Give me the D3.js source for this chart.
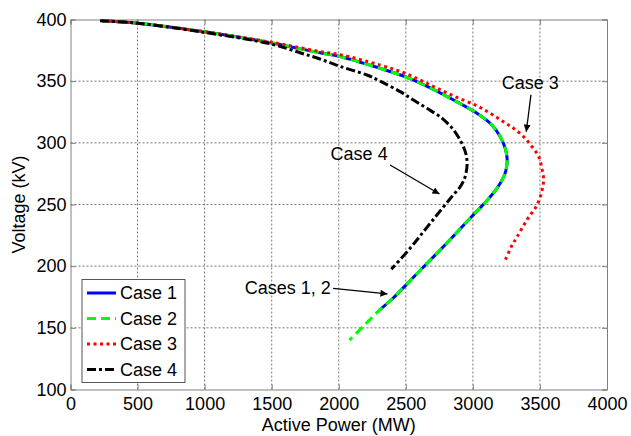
<!DOCTYPE html>
<html>
<head>
<meta charset="utf-8">
<script src="https://cdn.jsdelivr.net/npm/d3@7"></script>
<style>
body { margin: 0; background: #fff; }
text { font-family: Arial, "Liberation Sans", sans-serif; fill: #000; }
</style>
</head>
<body>
<div id="chart"></div>
<script>
// values: [active power MW, voltage kV]
var case1 = [[235,399],[500,397],[1000,390],[1500,381],[1860,373],[2010,370],[2309,360.4],[2495,353.6],[2682,344.5],[2856,334.7],[3030,324],[3142,314.5],[3204,305],[3244,294.5],[3256,286],[3247,278],[3230,272.5],[3179,263],[3109,253.6],[3042,246],[2967,237.4],[2856,224.5],[2706,207.5],[2557,191],[2408,174.4],[2303,164.4]];
var case2 = [[235,399],[500,397],[1000,390],[1500,381],[1860,373],[2010,370],[2309,360.4],[2495,353.6],[2682,344.5],[2856,334.7],[3030,324],[3142,314.5],[3204,305],[3244,294.5],[3256,286],[3247,278],[3230,272.5],[3179,263],[3109,253.6],[3042,246],[2967,237.4],[2856,224.5],[2706,207.5],[2557,191],[2408,174.4],[2303,164.4],[2190,152],[2080,140]];
var case3 = [[235,399],[500,397],[1000,390],[1500,381.5],[1860,374],[2010,371.5],[2309,363],[2495,356.4],[2682,347],[2856,338],[3030,330],[3129,324],[3228,317],[3303,311.8],[3378,305],[3440,297],[3490,289],[3515,279],[3527,270],[3517,262],[3480,250],[3403,237.4],[3328,223.5],[3290,216.5],[3238,204]];
var case4 = [[220,399],[500,397],[1000,389.5],[1500,380],[1712,373],[1860,368],[2010,362],[2210,355],[2309,350],[2458,341.5],[2557,334.7],[2657,328],[2769,320],[2856,310.4],[2918,299.6],[2948,291],[2957,283],[2948,275],[2930,269],[2900,263.5],[2860,258.5],[2818,253],[2732,241.5],[2632,228],[2532,214.5],[2392,197.5]];

var seriesNames = ["Case 1", "Case 2", "Case 3", "Case 4"];
var xTicks = [0, 500, 1000, 1500, 2000, 2500, 3000, 3500, 4000];
var yTicks = [100, 150, 200, 250, 300, 350, 400];

var series = [
    {name: seriesNames[0], data: case1, color: "#0000ff", dash: null},
    {name: seriesNames[1], data: case2, color: "#00ff00", dash: "9,5"},
    {name: seriesNames[2], data: case3, color: "#ff0000", dash: "3,3.5"},
    {name: seriesNames[3], data: case4, color: "#000000", dash: "9,3,3,3"}
];

var svgW = 631, svgH = 436;
var x = d3.scaleLinear().domain([0, 4000]).range([70.5, 607]);
var y = d3.scaleLinear().domain([100, 400]).range([389.5, 19.5]);

var svg = d3.select("#chart").append("svg")
    .attr("width", svgW)
    .attr("height", svgH);

var defs = svg.append("defs");
defs.append("marker")
    .attr("id", "arrow")
    .attr("viewBox", "0 0 10 10")
    .attr("refX", 10).attr("refY", 5)
    .attr("markerWidth", 9).attr("markerHeight", 7)
    .attr("markerUnits", "userSpaceOnUse")
    .attr("orient", "auto")
    .append("path")
    .attr("d", "M0,0 L10,5 L0,10 z")
    .attr("fill", "#000");

// grid ------------------------------
var grid = svg.append("g").attr("class", "grid");
grid.selectAll("line.gx").data(xTicks.slice(1, -1)).enter().append("line")
    .attr("x1", function (d) { return x(d); }).attr("x2", function (d) { return x(d); })
    .attr("y1", y(100)).attr("y2", y(400))
    .attr("stroke", "#777").attr("stroke-width", 1).attr("stroke-dasharray", "2,2");
grid.selectAll("line.gy").data(yTicks.slice(1, -1)).enter().append("line")
    .attr("y1", function (d) { return y(d); }).attr("y2", function (d) { return y(d); })
    .attr("x1", x(0)).attr("x2", x(4000))
    .attr("stroke", "#777").attr("stroke-width", 1).attr("stroke-dasharray", "2,2");

// axes
var xAxis = d3.axisBottom(x).tickValues(xTicks).tickSize(-5).tickPadding(8).tickFormat(d3.format("d"));
var yAxis = d3.axisLeft(y).tickValues(yTicks).tickSize(-5).tickPadding(4).tickFormat(d3.format("d"));

svg.append("g").attr("class", "xaxis")
    .attr("transform", "translate(0," + y(100) + ")")
    .call(xAxis);
svg.append("g").attr("class", "yaxis")
    .attr("transform", "translate(" + x(0) + ",0)")
    .call(yAxis);
svg.append("g").attr("transform", "translate(0," + y(400) + ")")
    .call(d3.axisTop(x).tickValues(xTicks).tickSize(-5).tickFormat(""));
svg.append("g").attr("transform", "translate(" + x(4000) + ",0)")
    .call(d3.axisRight(y).tickValues(yTicks).tickSize(-5).tickFormat(""));

svg.selectAll(".domain").attr("stroke", "#808080");
svg.selectAll(".tick line").attr("stroke", "#808080");
svg.selectAll(".xaxis text, .yaxis text")
    .style("font-size", "18px").style("font-family", "Arial, 'Liberation Sans', sans-serif").attr("fill", "#000");
svg.select(".xaxis").selectAll("text").attr("dy", "0.71em");

svg.append("text")
    .attr("x", (x(0) + x(4000)) / 2)
    .attr("y", 431)
    .style("text-anchor", "middle")
    .style("font-size", "18px")
    .text("Active Power (MW)");

svg.append("text")
    .attr("transform", "rotate(-90)")
    .attr("x", -(y(100) + y(400)) / 2)
    .attr("y", 25)
    .style("text-anchor", "middle")
    .style("font-size", "18px")
    .text("Voltage (kV)");

// curves
var line = d3.line()
    .x(function (d) { return x(d[0]); })
    .y(function (d) { return y(d[1]); })
    .curve(d3.curveCatmullRom.alpha(0.5));

svg.append("g").selectAll("path").data(series).enter().append("path")
    .attr("d", function (d) { return line(d.data); })
    .attr("fill", "none")
    .attr("stroke", function (d) { return d.color; })
    .attr("stroke-width", 3)
    .attr("stroke-dasharray", function (d) { return d.dash; });

// annotations
var notes = [
    {text: "Case 3", tx: 3428, ty: 349, anchor: "middle", a: [3433, 339, 3398, 309]},
    {text: "Case 4", tx: 2152, ty: 291.5, anchor: "middle", a: [2383, 282, 2751, 258.5]},
    {text: "Cases 1, 2", tx: 1941, ty: 182.3, anchor: "end", a: [1958, 182, 2363, 177.5]}
];
var ann = svg.append("g").attr("class", "notes");
notes.forEach(function (n) {
    ann.append("text")
        .attr("x", x(n.tx)).attr("y", y(n.ty))
        .attr("dy", "0.35em")
        .style("text-anchor", n.anchor)
        .style("font-size", "18px")
        .text(n.text);
    ann.append("line")
        .attr("x1", x(n.a[0])).attr("y1", y(n.a[1]))
        .attr("x2", x(n.a[2])).attr("y2", y(n.a[3]))
        .attr("stroke", "#000").attr("stroke-width", 1.3)
        .attr("marker-end", "url(#arrow)");
});

// legend
var legend = svg.append("g").attr("transform", "translate(82,279.5)");
legend.append("rect")
    .attr("width", 103).attr("height", 103)
    .attr("fill", "#fff").attr("stroke", "#555").attr("stroke-width", 1);
var rows = legend.selectAll("g.row").data(series).enter().append("g")
    .attr("transform", function (d, i) { return "translate(0," + (13.5 + i * 25.5) + ")"; });
rows.append("line")
    .attr("x1", 5).attr("x2", 34)
    .attr("stroke", function (d) { return d.color; })
    .attr("stroke-width", 3)
    .attr("stroke-dasharray", function (d) { return d.dash; });
rows.append("text")
    .attr("x", 38).attr("dy", "0.35em")
    .style("font-size", "18px")
    .text(function (d) { return d.name; });
</script>
</body>
</html>
